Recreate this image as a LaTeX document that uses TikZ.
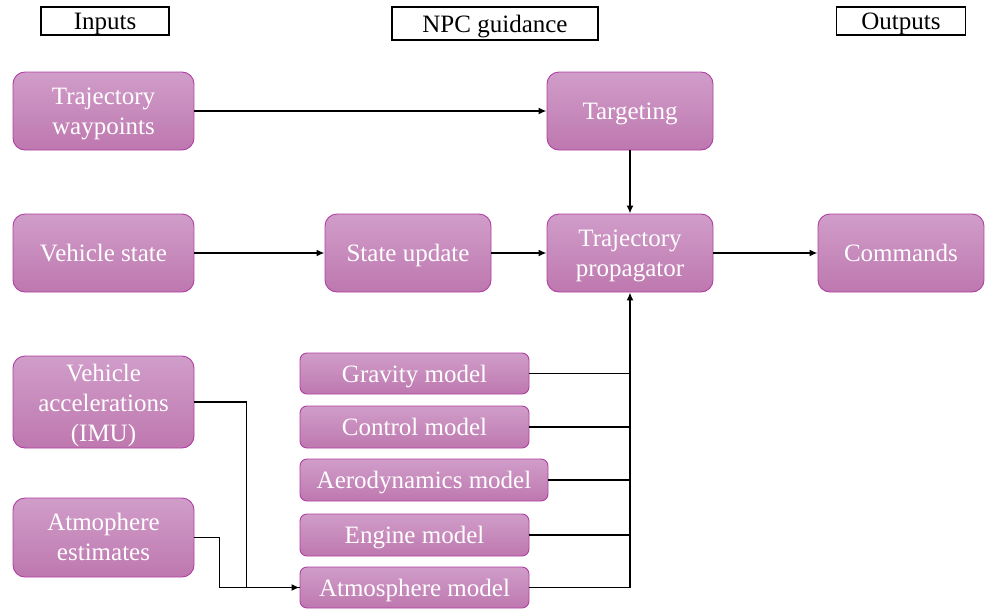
\documentclass[tikz,border=0pt]{standalone}
\usepackage{fontspec}
\setmainfont{Liberation Serif}
\usetikzlibrary{arrows.meta}
\definecolor{boxtop}{HTML}{D09DC9}
\definecolor{boxbot}{HTML}{BE78AF}
\definecolor{boxline}{HTML}{B13FA3}
\tikzset{
  block/.style={draw=boxline, line width=0.9pt, rounded corners=12pt,
    top color=boxtop, bottom color=boxbot, text=white,
    font=\fontsize{25}{30}\selectfont, align=center, inner sep=0pt},
  model/.style={block, rounded corners=7pt},
  header/.style={draw=black, line width=1.6pt, fill=white,
    font=\fontsize{25}{28}\selectfont, inner sep=0pt},
  % vertical placement of one-, two- and three-line labels
  oneline/.style={text height=23pt, text depth=5.5pt},
  twoline/.style={text height=52pt, text depth=6pt},
  threeline/.style={text height=84pt, text depth=6pt},
  link/.style={line width=1.8pt, -{Latex[length=8pt,width=7pt]}},
  wire/.style={line width=1.8pt}
}
\begin{document}
\begin{tikzpicture}[x=1pt, y=-1pt]
\useasboundingbox (0,0) rectangle (985,608);

% column headers
\node[header, oneline, minimum width=128pt, minimum height=28pt] (hin)  at (105,21)   {Inputs};
\node[header, oneline, minimum width=206pt, minimum height=33pt] (hnpc) at (495,23.5) {NPC guidance};
\node[header, oneline, minimum width=129pt, minimum height=28pt] (hout) at (901,21)   {Outputs};

% inputs
\node[block, twoline, minimum width=181pt, minimum height=78pt] (wp)  at (103.5,111) {Trajectory\\waypoints};
\node[block, oneline, minimum width=181pt, minimum height=78pt] (vs)  at (103.5,253) {Vehicle state};
\node[block, threeline, minimum width=181pt, minimum height=92pt] (acc) at (103.5,402) {Vehicle\\accelerations\\(IMU)};
\node[block, twoline, minimum width=181pt, minimum height=79pt] (atm) at (103.5,537.5) {Atmophere\\estimates};

% guidance
\node[block, oneline, minimum width=166pt, minimum height=78pt] (su)   at (408,253) {State update};
\node[block, oneline, minimum width=166pt, minimum height=78pt] (tgt)  at (630,111) {Targeting};
\node[block, twoline, minimum width=166pt, minimum height=78pt] (prop) at (630,253) {Trajectory\\propagator};

% models
\node[model, oneline, minimum width=229pt, minimum height=41pt] (grav) at (414.5,373.5) {Gravity model};
\node[model, oneline, minimum width=229pt, minimum height=42pt] (ctrl) at (414.5,427)   {Control model};
\node[model, oneline, minimum width=248pt, minimum height=42pt] (aero) at (424,480)      {Aerodynamics model};
\node[model, oneline, minimum width=229pt, minimum height=42pt] (eng)  at (414.5,535)   {Engine model};
\node[model, oneline, minimum width=229pt, minimum height=41pt] (amod) at (414.5,587.5) {Atmosphere model};

% outputs
\node[block, oneline, minimum width=166pt, minimum height=78pt] (cmd) at (901,253) {Commands};

% connectors
\draw[link] (wp.east) -- (tgt.west);
\draw[link] (vs.east) -- (su.west);
\draw[link] (su.east) -- (prop.west);
\draw[link] (tgt.south) -- (prop.north);
\draw[link] (prop.east) -- (cmd.west);

\coordinate (bus) at (630,587.5);
\draw[wire] (grav.east) -- (grav.east -| bus);
\draw[wire] (ctrl.east) -- (ctrl.east -| bus);
\draw[wire] (aero.east) -- (aero.east -| bus);
\draw[wire] (eng.east)  -- (eng.east -| bus);
\draw[wire] (amod.east) -- (bus);
\draw[link] (bus) -- (prop.south);

\draw[link] (acc.east) -- ++(52,0) |- (amod.west);
\draw[wire] (atm.east) -- ++(25,0) |- (amod.west);
\end{tikzpicture}
\end{document}
